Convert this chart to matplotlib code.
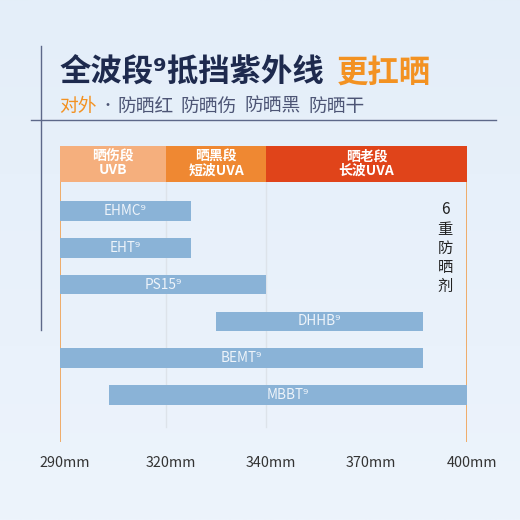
import numpy as np
import matplotlib.pyplot as plt
from matplotlib.colors import LinearSegmentedColormap
from matplotlib.lines import Line2D
from matplotlib.transforms import ScaledTranslation

plt.rcParams['font.family'] = ['Noto Sans CJK SC', 'DejaVu Sans']

# data
TICK_NM = [290, 320, 340, 370, 400]
TICK_LABELS = ['290mm', '320mm', '340mm', '370mm', '400mm']
BAND_LABELS = ['晒伤段\nUVB', '晒黑段\n短波UVA', '晒老段\n长波UVA']
BAND_START = [290, 320, 340]
BAND_END = [320, 340, 400]
AGENTS = ['EHMC⁹', 'EHT⁹', 'PS15⁹', 'DHHB⁹', 'BEMT⁹', 'MBBT⁹']
AGENT_START = [290, 290, 290, 330, 290, 304]
AGENT_END = [325, 325, 340, 387, 387, 400]
TITLE_MAIN = '全波段⁹抵挡紫外线'
TITLE_ACCENT = '更扛晒'
SUB_ACCENT = '对外'
SUB_GROUPS = ['防晒红', '防晒伤', '防晒黑', '防晒干']
SIDE_TEXT = '6重防晒剂'

# colours
BG = '#e8f1fb'
NAVY = '#1e2a4e'
ORANGE = '#f39222'
BAND_COLORS = ['#f5af7d', '#ef8832', '#e0441a']
BAR_COLOR = '#8ab3d7'
LINE_ORANGE = '#f0a050'
GRID = '#dde3ea'
DECO = '#5d6889'
SUB_GREY = '#4d5575'

# the wavelength axis is ordinal: ticks are (almost) evenly spaced
SCALE_POS = [0, 1.042, 2.025, 3.007, 4.0]


def fwd(x):
    return np.interp(x, TICK_NM, SCALE_POS)


def inv(p):
    return np.interp(p, SCALE_POS, TICK_NM)


W = H = 520
fig = plt.figure(figsize=(5.2, 5.2), dpi=100)
fig.patch.set_facecolor(BG)

# soft background gradient
bg_ax = fig.add_axes([0, 0, 1, 1], zorder=-5)
grad = np.linspace(0, 1, 256).reshape(-1, 1)
bg_ax.imshow(grad, aspect='auto', extent=[0, 1, 0, 1],
             cmap=LinearSegmentedColormap.from_list('bg', ['#e4eef9', '#edf4fc']))
bg_ax.axis('off')


def px(x0, y0, x1, y1):
    return [x0 / W, 1 - y1 / H, (x1 - x0) / W, (y1 - y0) / H]


# header bands
hax = fig.add_axes(px(60, 146, 467, 182))
hax.set_xscale('function', functions=(fwd, inv))
hax.barh(0, np.subtract(BAND_END, BAND_START), left=BAND_START, height=1,
         color=BAND_COLORS, edgecolor='none')
for s, e, lab in zip(BAND_START, BAND_END, BAND_LABELS):
    hax.text(inv((fwd(s) + fwd(e)) / 2), 0.02, lab, ha='center', va='center',
             color='white', fontsize=10, fontweight='bold', linespacing=1.0)
hax.set_xlim(290, 400)
hax.set_ylim(-0.5, 0.5)
hax.axis('off')

# main chart
ax = fig.add_axes(px(60, 182, 467, 442))
ax.set_xscale('function', functions=(fwd, inv))
ax.patch.set_alpha(0)
y = np.arange(len(AGENTS))
ax.barh(y, np.subtract(AGENT_END, AGENT_START), left=AGENT_START, height=0.53,
        color=BAR_COLOR, edgecolor='none', zorder=3)
for yi, s, e, lab in zip(y, AGENT_START, AGENT_END, AGENTS):
    ax.text(inv((fwd(s) + fwd(e)) / 2), yi, lab, ha='center', va='center',
            color='#eef4fa', fontsize=9.8, zorder=4)
ax.set_xlim(290, 400)
ax.set_ylim(6.28, -0.79)
for v in (320, 340):
    ax.axvline(v, ymin=0.058, ymax=1, color=GRID, lw=1, zorder=1)
for v in (290, 400):
    ax.axvline(v, color=LINE_ORANGE, lw=1.2, zorder=2)
for s in ax.spines.values():
    s.set_visible(False)
ax.set_yticks([])
ax.set_xticks(TICK_NM, TICK_LABELS)
ax.tick_params(axis='x', length=0, pad=10, labelsize=10.3, labelcolor='#333333')
for lab in ax.get_xticklabels():
    lab.set_transform(lab.get_transform() + ScaledTranslation(0.05, 0, fig.dpi_scale_trans))

# side text
for i, ch in enumerate(SIDE_TEXT):
    fig.text(445 / W, 1 - (210 + 19.2 * i) / H, ch, ha='center', va='center',
             fontsize=11, color='#222222')

# titles
fig.text(60 / W, 1 - 73 / H, TITLE_MAIN, ha='left', va='center',
         fontsize=22.6, fontweight='bold', color=NAVY)
fig.text(337 / W, 1 - 73 / H, TITLE_ACCENT, ha='left', va='center',
         fontsize=22.6, fontweight='bold', color=ORANGE)
fig.text(59 / W, 1 - 106 / H, SUB_ACCENT, ha='left', va='center',
         fontsize=13.5, color=ORANGE)
fig.text(108 / W, 1 - 106 / H, '·', ha='center', va='center',
         fontsize=10, color=SUB_GREY)
for i, g in enumerate(SUB_GROUPS):
    fig.text((117 + 63.7 * i) / W, 1 - 106 / H, g, ha='left', va='center',
             fontsize=13.5, fontweight='light', color=SUB_GREY)

# decorative lines
fig.add_artist(Line2D([41 / W, 41 / W], [1 - 46 / H, 1 - 330 / H], color=DECO, lw=1))
fig.add_artist(Line2D([31 / W, 496 / W], [1 - 120 / H, 1 - 120 / H], color=DECO, lw=1))

fig.savefig('out.png', dpi=100, facecolor=BG)
